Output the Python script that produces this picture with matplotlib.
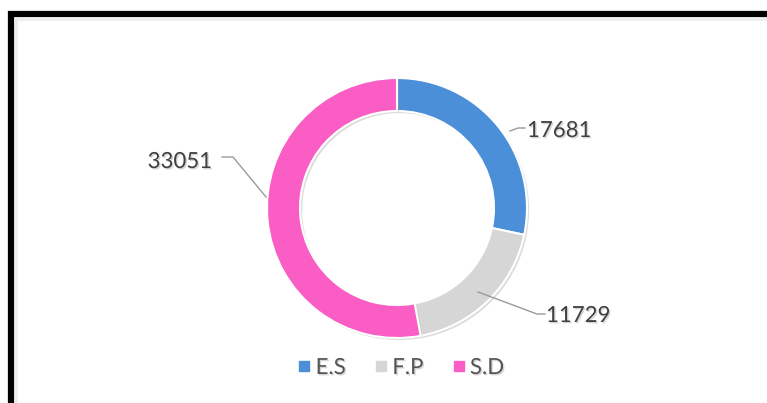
import numpy as np
import matplotlib
matplotlib.use("Agg")
import matplotlib.pyplot as plt
import matplotlib.patheffects as pe
from matplotlib.patches import Rectangle
from matplotlib.lines import Line2D

# data
labels = ['E.S', 'F.P', 'S.D']
values = [17681, 11729, 33051]
colors = ['#4A8FD8', '#D6D6D6', '#FA5EC4']

plt.rcParams['font.family'] = ['Lato', 'DejaVu Sans']

W, H = 767, 403
fig = plt.figure(figsize=(W / 100, H / 100), dpi=100)
ax = fig.add_axes([0, 0, 1, 1])

# black frame (runs off right and bottom edges)
fig.add_artist(Rectangle((10.5 / W, -0.05), 1.1, 1 - 14.5 / H + 0.05,
                         transform=fig.transFigure, fill=False,
                         edgecolor='black', linewidth=4.5))
fig.add_artist(Rectangle((15.5 / W, -0.05), 1.1, 1 - 19.5 / H + 0.05,
                         transform=fig.transFigure, fill=False,
                         edgecolor='#cccccc', linewidth=2, alpha=0.35))

cx, cy, R = 397, H - 208, 130
shadow = [pe.SimplePatchShadow(offset=(1.5, -1.5), shadow_rgbFace='#999999', alpha=0.35),
          pe.Normal()]
wedges, _ = ax.pie(values, colors=colors, startangle=90, counterclock=False,
                   center=(cx, cy), radius=R, frame=True,
                   wedgeprops=dict(width=33, edgecolor='white', linewidth=1.5))
for w in wedges:
    w.set_path_effects(shadow)
ax.set_xlim(0, W)
ax.set_ylim(0, H)
ax.set_aspect('equal')
ax.axis('off')

# value labels with leader lines
txt_fx = [pe.withSimplePatchShadow(offset=(1, -1), shadow_rgbFace='#bbbbbb', alpha=0.6)]
txt_kw = dict(fontsize=16, color='#404040', va='center', path_effects=txt_fx)
lead = dict(color='#9a9a9a', lw=1)

# E.S
ax.plot([510, 518, 525], [H - 131, H - 128, H - 128], **lead)
ax.text(527, H - 131, f'{values[0]}', ha='left', **txt_kw)
# F.P
ax.plot([478, 537, 545], [H - 292, H - 314, H - 314], **lead)
ax.text(546, H - 316, f'{values[1]}', ha='left', **txt_kw)
# S.D
ax.plot([266, 233, 222], [H - 197, H - 157, H - 157], **lead)
ax.text(212, H - 162, f'{values[2]}', ha='right', **txt_kw)

handles = [Line2D([], [], marker='s', ls='none', markersize=7,
                  markerfacecolor=c, markeredgecolor=c) for c in colors]
leg = ax.legend(handles, labels, ncol=3, loc='center',
                bbox_to_anchor=(401 / W, 1 - 368 / H), bbox_transform=fig.transFigure,
                frameon=False, fontsize=16, handlelength=0.6, handletextpad=0.2,
                columnspacing=1.3)
for t in leg.get_texts():
    t.set_color('#555555')
    t.set_path_effects(txt_fx)

fig.savefig('out.png', dpi=100)
